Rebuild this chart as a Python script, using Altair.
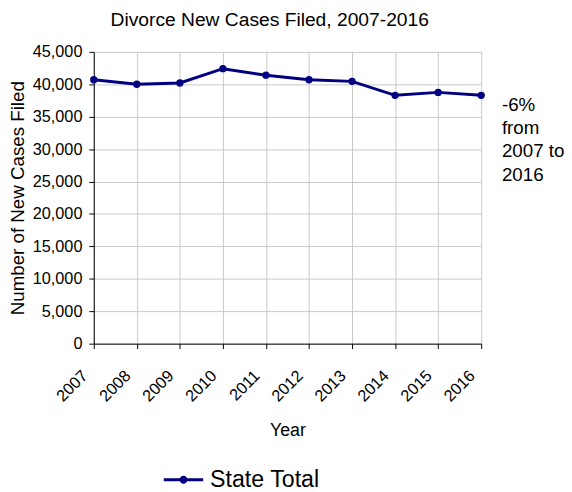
import altair as alt
import pandas as pd

years = ["2007", "2008", "2009", "2010", "2011", "2012", "2013", "2014", "2015", "2016"]
cases = [40700, 40000, 40200, 42400, 41400, 40700, 40450, 38300, 38750, 38300]
series_name = "State Total"
annotation_lines = ["-6%", "from", "2007 to", "2016"]
y_ticks = [0, 5000, 10000, 15000, 20000, 25000, 30000, 35000, 40000, 45000]

df = pd.DataFrame({"Year": years, "Cases": cases, "Series": [series_name] * len(years)})
ann_df = pd.DataFrame({"Year": [years[-1]], "Cases": [cases[-1]], "label": ["\n".join(annotation_lines)]})

navy = "#000080"
font = "Liberation Sans"

x_enc = alt.X("Year:O", title="Year", scale=alt.Scale(padding=0),
              axis=alt.Axis(labelAngle=-45, labelAlign="right", labelBaseline="top",
                            labelPadding=19, labelOffset=-15, titlePadding=18,
                            labelFontSize=16.5, titleFontSize=18))
y_enc = alt.Y("Cases:Q", title="Number of New Cases Filed",
              scale=alt.Scale(domain=[0, 45000], nice=False),
              axis=alt.Axis(values=y_ticks, format=",.0f", labelPadding=7, titlePadding=5,
                            labelFontSize=16.5, titleFontSize=19, labelOverlap=False))

line = alt.Chart(df).mark_line(color=navy, strokeWidth=3).encode(x=x_enc, y=y_enc)

legend_symbol = ("M -1 -0.075 L 1 -0.075 L 1 0.075 L -1 0.075 Z "
                 "M 0.2 0 A 0.2 0.2 0 1 1 -0.2 0 A 0.2 0.2 0 1 1 0.2 0 Z")

points = alt.Chart(df).mark_point(filled=True, opacity=1, size=55).encode(
    x=x_enc, y=y_enc,
    color=alt.Color("Series:N", scale=alt.Scale(domain=[series_name], range=[navy]),
                    legend=alt.Legend(title=None, orient="none", legendX=71, legendY=414,
                                      symbolType=legend_symbol, symbolSize=1600,
                                      symbolOpacity=1, symbolStrokeWidth=0,
                                      labelFontSize=23.5, labelFont=font, labelColor="black",
                                      labelOffset=7)),
)

ann = alt.Chart(ann_df).mark_text(align="left", baseline="top", dx=21, dy=1,
                                  fontSize=19, font=font, color="black",
                                  lineBreak="\n", lineHeight=23.5).encode(
    x=x_enc, y=y_enc, text="label:N")

chart = alt.layer(line, points, ann).properties(
    width=393, height=296,
    autosize=alt.AutoSizeParams(type="none"),
    padding={"left": 87, "top": 41, "right": 84, "bottom": 147},
    title=alt.TitleParams("Divorce New Cases Filed, 2007-2016", fontSize=19.5, fontWeight="normal",
                          font=font, color="black", dx=-18, offset=14),
).configure_view(stroke=None).configure_axis(
    labelFont=font, titleFont=font,
    labelColor="black", titleColor="black", titleFontWeight="normal",
    domainColor="black", tickColor="black", tickSize=5,
    gridColor="#c8c8c8", gridWidth=1, grid=True,
)

chart.save("out.html", embed_options={"renderer": "svg", "actions": False})
